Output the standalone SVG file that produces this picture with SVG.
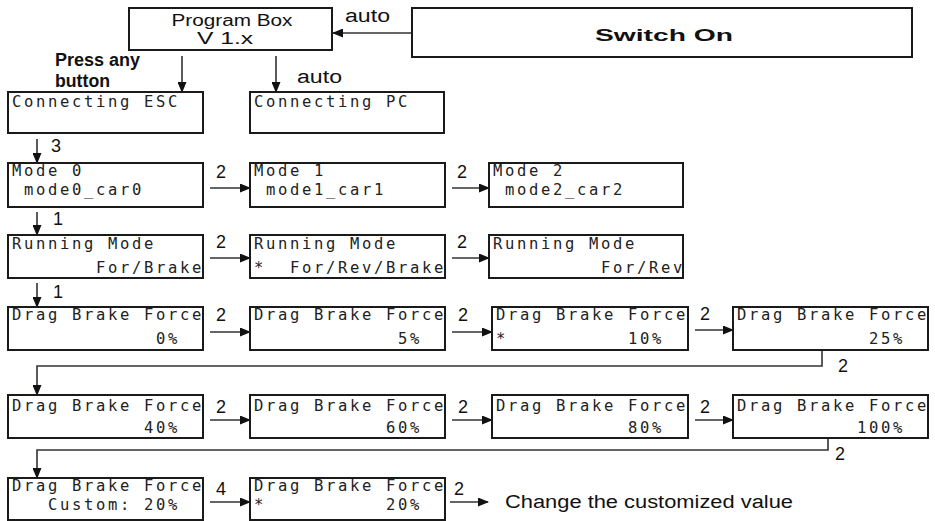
<svg xmlns="http://www.w3.org/2000/svg" width="935" height="521" viewBox="0 0 935 521">
<defs>
<marker id="ah" markerWidth="11" markerHeight="9" refX="10" refY="4.5" orient="auto" markerUnits="userSpaceOnUse"><path d="M0,0 L11,4.5 L0,9 Z" fill="#111"/></marker>
<style>
.box{fill:#fff;stroke:#1a1a1a;stroke-width:2}
.lcd{font-family:"DejaVu Sans Mono","Liberation Mono",monospace;font-size:15.5px;letter-spacing:2.67px;fill:#222}
.sans{font-family:"Liberation Sans",Arial,sans-serif;font-size:16px;fill:#111}
.lbl{font-family:"Liberation Sans",Arial,sans-serif;font-size:18px;fill:#111}
.ln{fill:none;stroke:#333;stroke-width:1.6}
</style>
</defs>
<rect width="935" height="521" fill="#fff"/>

<g id="connectors">
<line class="ln" x1="412" y1="33" x2="333" y2="33" marker-end="url(#ah)"/>
<line class="ln" x1="182" y1="56" x2="182" y2="92" marker-end="url(#ah)"/>
<line class="ln" x1="276" y1="56" x2="276" y2="92" marker-end="url(#ah)"/>
<line class="ln" x1="37" y1="139" x2="37" y2="163" marker-end="url(#ah)"/>
<line class="ln" x1="210" y1="188" x2="250" y2="188" marker-end="url(#ah)"/>
<line class="ln" x1="452" y1="188" x2="489" y2="188" marker-end="url(#ah)"/>
<line class="ln" x1="37" y1="212" x2="37" y2="235" marker-end="url(#ah)"/>
<line class="ln" x1="210" y1="258" x2="250" y2="258" marker-end="url(#ah)"/>
<line class="ln" x1="452" y1="258" x2="489" y2="258" marker-end="url(#ah)"/>
<line class="ln" x1="37" y1="283" x2="37" y2="307" marker-end="url(#ah)"/>
<line class="ln" x1="210" y1="332" x2="250" y2="332" marker-end="url(#ah)"/>
<line class="ln" x1="452" y1="332" x2="492" y2="332" marker-end="url(#ah)"/>
<line class="ln" x1="695" y1="330" x2="733" y2="330" marker-end="url(#ah)"/>
<polyline class="ln" points="822,350 822,366 37,366 37,395" marker-end="url(#ah)"/>
<line class="ln" x1="210" y1="420" x2="250" y2="420" marker-end="url(#ah)"/>
<line class="ln" x1="452" y1="420" x2="492" y2="420" marker-end="url(#ah)"/>
<line class="ln" x1="695" y1="420" x2="733" y2="420" marker-end="url(#ah)"/>
<polyline class="ln" points="828,438 828,450 37,450 37,478" marker-end="url(#ah)"/>
<line class="ln" x1="210" y1="502" x2="250" y2="502" marker-end="url(#ah)"/>
<line class="ln" x1="450" y1="502" x2="488" y2="502" marker-end="url(#ah)"/>

<text class="lbl" x="345" y="22" textLength="45" lengthAdjust="spacingAndGlyphs">auto</text>
<text class="lbl" x="55" y="66" font-size="14" font-weight="bold" textLength="85" lengthAdjust="spacingAndGlyphs">Press any</text>
<text class="lbl" x="55" y="87" font-size="14" font-weight="bold" textLength="55" lengthAdjust="spacingAndGlyphs">button</text>
<text class="lbl" x="297" y="83" textLength="45" lengthAdjust="spacingAndGlyphs">auto</text>
<text class="lbl" x="51" y="152">3</text>
<text class="lbl" x="53" y="225">1</text>
<text class="lbl" x="53" y="298">1</text>
<text class="lbl" x="216" y="178">2</text>
<text class="lbl" x="457" y="178">2</text>
<text class="lbl" x="216" y="248">2</text>
<text class="lbl" x="457" y="248">2</text>
<text class="lbl" x="216" y="321">2</text>
<text class="lbl" x="458" y="321">2</text>
<text class="lbl" x="700" y="320">2</text>
<text class="lbl" x="838" y="372">2</text>
<text class="lbl" x="216" y="413">2</text>
<text class="lbl" x="458" y="413">2</text>
<text class="lbl" x="700" y="413">2</text>
<text class="lbl" x="835" y="460">2</text>
<text class="lbl" x="216" y="495">4</text>
<text class="lbl" x="454" y="495">2</text>
<text class="lbl" x="505" y="508" textLength="288" lengthAdjust="spacingAndGlyphs">Change the customized value</text>
</g>

<g id="program-box">
<rect class="box" x="129" y="8" width="203" height="42"/>
<text class="sans" x="232" y="26" text-anchor="middle" textLength="121" lengthAdjust="spacingAndGlyphs">Program Box</text>
<text class="sans" x="225" y="44" text-anchor="middle" textLength="56" lengthAdjust="spacingAndGlyphs">V 1.x</text>
</g>

<g id="switch-on">
<rect class="box" x="412" y="8" width="500" height="49"/>
<text class="sans" x="664" y="41" font-size="21" font-weight="bold" text-anchor="middle" textLength="138" lengthAdjust="spacingAndGlyphs">Switch On</text>
</g>

<g id="connecting-esc">
<rect class="box" x="8" y="92" width="195" height="41"/>
<text class="lcd" x="12" y="107">Connecting ESC</text>
</g>
<g id="connecting-pc">
<rect class="box" x="250" y="92" width="194" height="41"/>
<text class="lcd" x="254" y="107">Connecting PC</text>
</g>

<g id="mode-0">
<rect class="box" x="8" y="163" width="195" height="44"/>
<text class="lcd" x="12" y="176">Mode 0</text>
<text class="lcd" x="24" y="195">mode0_car0</text>
</g>
<g id="mode-1">
<rect class="box" x="250" y="163" width="195" height="44"/>
<text class="lcd" x="254" y="176">Mode 1</text>
<text class="lcd" x="266" y="195">mode1_car1</text>
</g>
<g id="mode-2">
<rect class="box" x="489" y="163" width="194" height="44"/>
<text class="lcd" x="493" y="176">Mode 2</text>
<text class="lcd" x="505" y="195">mode2_car2</text>
</g>

<g id="running-for-brake">
<rect class="box" x="8" y="235" width="195" height="43"/>
<text class="lcd" x="12" y="249">Running Mode</text>
<text class="lcd" x="96" y="273">For/Brake</text>
</g>
<g id="running-for-rev-brake">
<rect class="box" x="250" y="235" width="195" height="43"/>
<text class="lcd" x="254" y="249">Running Mode</text>
<text class="lcd" x="254" y="273">*</text>
<text class="lcd" x="290" y="273">For/Rev/Brake</text>
</g>
<g id="running-for-rev">
<rect class="box" x="489" y="235" width="194" height="43"/>
<text class="lcd" x="493" y="249">Running Mode</text>
<text class="lcd" x="601" y="273">For/Rev</text>
</g>

<g id="drag-0">
<rect class="box" x="8" y="307" width="195" height="43"/>
<text class="lcd" x="12" y="320">Drag Brake Force</text>
<text class="lcd" x="156" y="344">0%</text>
</g>
<g id="drag-5">
<rect class="box" x="250" y="307" width="195" height="43"/>
<text class="lcd" x="254" y="320">Drag Brake Force</text>
<text class="lcd" x="398" y="344">5%</text>
</g>
<g id="drag-10">
<rect class="box" x="492" y="307" width="196" height="43"/>
<text class="lcd" x="496" y="320">Drag Brake Force</text>
<text class="lcd" x="496" y="344">*</text>
<text class="lcd" x="628" y="344">10%</text>
</g>
<g id="drag-25">
<rect class="box" x="733" y="307" width="195" height="43"/>
<text class="lcd" x="737" y="320">Drag Brake Force</text>
<text class="lcd" x="869" y="344">25%</text>
</g>

<g id="drag-40">
<rect class="box" x="8" y="395" width="195" height="43"/>
<text class="lcd" x="12" y="411">Drag Brake Force</text>
<text class="lcd" x="144" y="433">40%</text>
</g>
<g id="drag-60">
<rect class="box" x="250" y="395" width="195" height="43"/>
<text class="lcd" x="254" y="411">Drag Brake Force</text>
<text class="lcd" x="386" y="433">60%</text>
</g>
<g id="drag-80">
<rect class="box" x="492" y="395" width="196" height="43"/>
<text class="lcd" x="496" y="411">Drag Brake Force</text>
<text class="lcd" x="628" y="433">80%</text>
</g>
<g id="drag-100">
<rect class="box" x="733" y="395" width="195" height="43"/>
<text class="lcd" x="737" y="411">Drag Brake Force</text>
<text class="lcd" x="857" y="433">100%</text>
</g>

<g id="drag-custom">
<rect class="box" x="8" y="478" width="195" height="42"/>
<text class="lcd" x="12" y="491">Drag Brake Force</text>
<text class="lcd" x="48" y="510">Custom: 20%</text>
</g>
<g id="drag-custom-edit">
<rect class="box" x="250" y="478" width="195" height="42"/>
<text class="lcd" x="254" y="491">Drag Brake Force</text>
<text class="lcd" x="254" y="510">*</text>
<text class="lcd" x="386" y="510">20%</text>
</g>
</svg>
